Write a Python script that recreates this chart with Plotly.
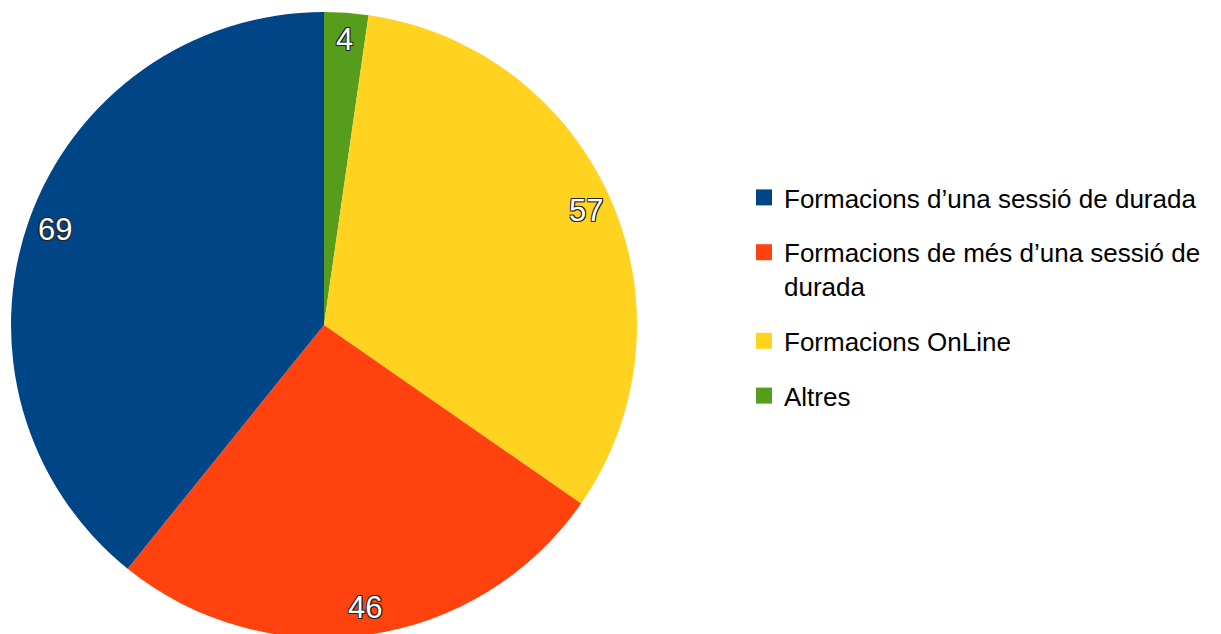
import math
import plotly.graph_objects as go

# ---- data ----
categories = [
    "Formacions d\u2019una sessió de durada",
    "Formacions de més d\u2019una sessió de<br>durada",
    "Formacions OnLine",
    "Altres",
]
values = [69, 46, 57, 4]
colors = ["#004586", "#ff420e", "#ffd320", "#579d1c"]

# page has an 8px body margin, figure sized accordingly
W, H = 1213, 634
OFF = 8
FONT = "Liberation Sans, Arial, sans-serif"

# pie domain (paper coords); pie centre at page (324, 325), radius 313
cxp, cyp, Rp = 324 - OFF, 325 - OFF, 313
dom_x = [(cxp - Rp) / W, (cxp + Rp) / W]
dom_y = [1 - (cyp + Rp) / H, 1 - (cyp - Rp) / H]

# clockwise from 12 o'clock the slices run: Altres, OnLine, més d'una, una sessió
pie_order = [3, 2, 1, 0]
pie_labels = [categories[i] for i in pie_order]
pie_values = [values[i] for i in pie_order]
pie_colors = [colors[i] for i in pie_order]

fig = go.Figure()
fig.add_trace(go.Pie(
    labels=pie_labels,
    values=pie_values,
    marker=dict(colors=pie_colors, line=dict(width=0)),
    sort=False,
    direction="clockwise",
    rotation=0,
    textinfo="none",
    hoverinfo="label+value",
    showlegend=False,
    domain=dict(x=dom_x, y=dom_y),
))

# legend via dummy traces (one group each so spacing can be set)
for i, (lab, col) in enumerate(zip(categories, colors)):
    fig.add_trace(go.Scatter(
        x=[None], y=[None], mode="markers", name=lab,
        marker=dict(symbol="square", size=16, color=col),
        legendgroup=f"g{i}", showlegend=True, hoverinfo="skip",
    ))

# value labels near the rim, computed from the data
cx_px = (dom_x[0] + dom_x[1]) / 2 * W
cy_px = (1 - (dom_y[0] + dom_y[1]) / 2) * H
R = min((dom_x[1] - dom_x[0]) * W, (dom_y[1] - dom_y[0]) * H) / 2
total = sum(pie_values)
cum = 0.0
annotations = []
for v in pie_values:
    mid = (cum + v / 2) / total * 2 * math.pi  # clockwise from 12 o'clock
    cum += v
    r = 0.913 * R
    px = cx_px + r * math.sin(mid)
    py = cy_px - r * math.cos(mid)
    annotations.append(dict(
        x=px / W, y=1 - py / H, xref="paper", yref="paper",
        text=str(v), showarrow=False,
        font=dict(family=FONT, size=31, color="white",
                  shadow="1px 1px 0 #222, -1px -1px 0 #222, 1px -1px 0 #222, -1px 1px 0 #222"),
        xanchor="center", yanchor="middle",
    ))

fig.update_layout(
    width=W, height=H,
    margin=dict(l=0, r=0, t=0, b=0),
    paper_bgcolor="white", plot_bgcolor="white",
    font=dict(family=FONT, size=26, color="#000"),
    xaxis=dict(visible=False), yaxis=dict(visible=False),
    legend=dict(
        x=(744 - OFF) / W, xanchor="left", y=1 - 166 / H, yanchor="top",
        font=dict(family=FONT, size=26, color="#000"),
        tracegroupgap=18, valign="top", itemsizing="trace",
        bgcolor="rgba(0,0,0,0)",
    ),
    annotations=annotations,
)

fig.write_html("out.html")
